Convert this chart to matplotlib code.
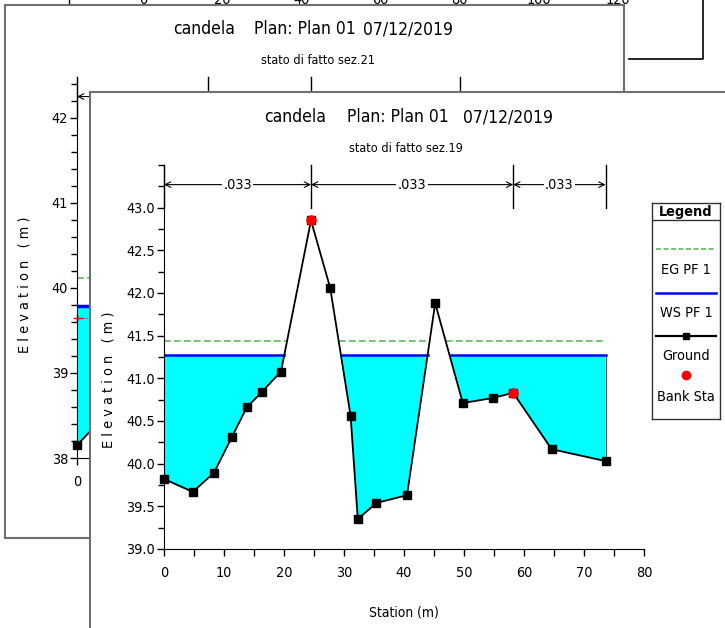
import matplotlib.pyplot as plt
import matplotlib.transforms as mtransforms
import numpy as np
from matplotlib import font_manager
from matplotlib.ticker import MultipleLocator, FormatStrFormatter

# narrow sans for the HEC-RAS look, whichever is installed
fonts = font_manager.fontManager.ttflist
names = {f.name for f in fonts}
if 'Liberation Sans Narrow' in names:
    family, stretch = 'Liberation Sans Narrow', 'normal'
elif any(f.name == 'DejaVu Sans' and f.stretch == 'condensed' for f in fonts):
    family, stretch = 'DejaVu Sans', 'condensed'
else:
    family, stretch = 'Liberation Sans', 'normal'
plt.rcParams['font.family'] = [family, 'DejaVu Sans']
plt.rcParams['font.stretch'] = stretch

# cross section sez.19 (front window)
station19 = [0.0, 4.8, 8.3, 11.3, 13.8, 16.3, 19.5, 24.5, 27.7, 31.1, 32.3,
             35.4, 40.5, 45.2, 49.8, 54.8, 58.2, 64.6, 73.6]
ground19 = [39.82, 39.67, 39.89, 40.31, 40.66, 40.84, 41.08, 42.85, 42.06, 40.56,
            39.35, 39.54, 39.63, 41.88, 40.71, 40.77, 40.83, 40.17, 40.03]
bank19 = [24.5, 58.2]
ws19 = 41.27
eg19 = 41.44
n19 = ['.033', '.033', '.033']

# cross section sez.21 (window behind)
station21 = [0.0, 6.0, 14.0]
ground21 = [38.15, 38.45, 38.60]
ws21 = 39.79
eg21 = 40.12
crit21 = 39.65
n_breaks21 = [0.0, 32.75, 58.5, 95.75]
n21 = ['.033', '.033', '.033']

# far window, only its station axis peeks out at the top
far_ticks = [0, 20, 40, 60, 80, 100, 120]

title_parts = ['candela', 'Plan: Plan 01', '07/12/2019']

W, H = 725, 628
fig = plt.figure(figsize=(W / 100, H / 100), dpi=100)
# pixel coordinates measured from the top-left corner
PX = mtransforms.Affine2D().scale(1 / 100, -1 / 100).translate(0, H / 100) + fig.dpi_scale_trans

# scale font sizes from the width of the date string
probe = fig.text(0, 0, '07/12/2019', fontsize=14.5)
SC = 90 / probe.get_window_extent(renderer=fig.canvas.get_renderer()).width
probe.remove()


def fs(size):
    return size * SC


FRAME = '#707070'
CYAN = '#00FFFF'
BLUE = '#0000FF'
GREEN = '#5DB85D'


def px_axes(x0, y0, x1, y1):
    return fig.add_axes([x0 / W, 1 - y1 / H, (x1 - x0) / W, (y1 - y0) / H])


def wet_spans(st, z, level):
    st = np.asarray(st, float)
    z = np.asarray(z, float)
    spans = []
    x0 = st[0] if z[0] < level else None
    for i in range(len(st) - 1):
        a, b = z[i] - level, z[i + 1] - level
        if a * b < 0:
            xc = st[i] + (st[i + 1] - st[i]) * a / (a - b)
            if a < 0:
                spans.append((x0, xc))
                x0 = None
            else:
                x0 = xc
    if x0 is not None:
        spans.append((x0, st[-1]))
    return spans


def window(x0, y0, x1, y1):
    ax = px_axes(x0, y0, x1, y1)
    ax.set_facecolor('white')
    ax.set_xticks([])
    ax.set_yticks([])
    for sp in ax.spines.values():
        sp.set_color(FRAME)
        sp.set_linewidth(1.5)
    return ax


def style_axes(ax):
    ax.spines[['top', 'right']].set_visible(False)
    ax.set_facecolor('none')
    ax.tick_params(which='both', direction='out', labelsize=fs(12), width=1)
    ax.tick_params(axis='y', which='major', length=5, pad=1.5)
    ax.tick_params(axis='y', which='minor', length=4)
    ax.tick_params(axis='x', which='both', length=5, pad=7)


def n_values(ax, breaks, labels, y0, y1, y_arrow):
    for s in breaks:
        ax.plot([s, s], [y0, y1], color='k', lw=1, clip_on=False)
    for a, b, lab in zip(breaks[:-1], breaks[1:], labels):
        ax.annotate('', xy=(a, y_arrow), xytext=(b, y_arrow),
                    arrowprops=dict(arrowstyle='<->', color='k', lw=0.8,
                                    shrinkA=0, shrinkB=0, mutation_scale=10))
        ax.text((a + b) / 2, y_arrow, lab, ha='center', va='center', fontsize=fs(12),
                bbox=dict(facecolor='white', edgecolor='none', pad=1))


def titles(ax, xs, y, sub, sub_x, sub_y):
    for x, t in zip(xs, title_parts):
        ax.text(x, y, t, transform=PX, ha='center', va='center', fontsize=fs(14.5))
    ax.text(sub_x, sub_y, sub, transform=PX, ha='center', va='center', fontsize=fs(10.5))


# far window: tick labels of its station axis
ax_far = px_axes(69, -200, 700, -19)
ax_far.set_xlim(-74 / 3.958, 120 + 82 / 3.958)
ax_far.set_xticks(far_ticks)
ax_far.set_yticks([])
ax_far.spines[['top', 'right', 'left']].set_visible(False)
ax_far.tick_params(axis='x', labelsize=fs(12), length=5)
ax_far.plot([69, 69], [0, 6], color='k', lw=1, transform=PX, clip_on=False)
ax_far.plot([629, 703, 703], [59, 59, 0], color='k', lw=1.2, transform=PX, clip_on=False)

# window of sez.21
win21 = window(5, 5, 624, 538)
titles(win21, [204, 305, 408], 29, 'stato di fatto sez.21', 318, 60)

ax21 = px_axes(77, 77, 600, 458)
style_axes(ax21)
ax21.set_xlim(0, (600 - 77) / 4)
ax21.set_ylim(38, 42.48)
ax21.yaxis.set_major_locator(MultipleLocator(1))
ax21.yaxis.set_minor_locator(MultipleLocator(0.2))
ax21.xaxis.set_major_locator(MultipleLocator(20))
ax21.fill_between(station21, ground21, ws21, where=np.array(ground21) < ws21,
                  interpolate=True, color=CYAN, lw=0)
ax21.plot([0, station21[-1]], [eg21, eg21], color=GREEN, lw=1.2, dashes=(4, 2))
ax21.plot([0, station21[-1]], [ws21, ws21], color=BLUE, lw=2.5)
ax21.plot([0, station21[-1]], [crit21, crit21], color='red', lw=0.8, ls='-.')
ax21.plot([0], [crit21], '+', color='red', ms=6, clip_on=False)
ax21.plot(station21, ground21, color='k', lw=1.3, marker='s', ms=5.5, clip_on=False)
n_values(ax21, n_breaks21, n21, 42.0, 42.48, 42.25)
ax21.text(25, 285, 'E l e v a t i o n   ( m )', transform=PX, rotation=90,
          ha='center', va='center', fontsize=fs(12))

# window of sez.19
win19 = window(90, 92, 745, 650)
titles(win19, [295.5, 398, 508], 117, 'stato di fatto sez.19', 406, 148)

ax19 = px_axes(164, 165, 644, 549)
style_axes(ax19)
ax19.set_xlim(0, 80)
ax19.set_ylim(39, 43.5)
ax19.set_yticks(np.arange(39, 43.01, 0.5))
ax19.yaxis.set_major_formatter(FormatStrFormatter('%.1f'))
ax19.yaxis.set_minor_locator(MultipleLocator(0.25))
ax19.xaxis.set_major_locator(MultipleLocator(10))
ax19.xaxis.set_minor_locator(MultipleLocator(5))

g19 = np.array(ground19)
ax19.fill_between(station19, g19, ws19, where=g19 < ws19, interpolate=True,
                  color=CYAN, lw=0)
ax19.plot([station19[-1]] * 2, [ground19[-1], ws19], color='#555555', lw=0.8)
for a, b in wet_spans(station19, ground19, eg19):
    ax19.plot([a, b], [eg19, eg19], color=GREEN, lw=1.2, dashes=(4, 2))
for a, b in wet_spans(station19, ground19, ws19):
    ax19.plot([a, b], [ws19, ws19], color=BLUE, lw=1.8)
ax19.plot(station19, ground19, color='k', lw=1.3, marker='s', ms=5.5, clip_on=False)
ax19.plot(bank19, np.interp(bank19, station19, ground19), 'o', color='red', ms=6.5,
          mec='red')
n_values(ax19, [station19[0]] + bank19 + [station19[-1]], n19, 43.0, 43.5, 43.27)
ax19.set_xlabel('Station (m)', fontsize=fs(11.5), va='center')
ax19.xaxis.set_label_coords(404, 613, transform=PX)
ax19.text(108, 380, 'E l e v a t i o n   ( m )', transform=PX, rotation=90,
          ha='center', va='center', fontsize=fs(12))

# legend box
leg = px_axes(652, 203, 720, 419)
leg.set_xlim(0, 68)
leg.set_ylim(216, 0)
leg.set_xticks([])
leg.set_yticks([])
for sp in leg.spines.values():
    sp.set_color('#333333')
    sp.set_linewidth(1)
leg.axhline(17, color='#333333', lw=1)
leg.text(34, 9, 'Legend', ha='center', va='center', fontsize=fs(12), fontweight='bold')
leg.plot([4, 64], [46, 46], color=GREEN, lw=1.2, dashes=(3, 1.5))
leg.text(34, 67, 'EG PF 1', ha='center', va='center', fontsize=fs(12))
leg.plot([4, 64], [90, 90], color=BLUE, lw=1.8)
leg.text(34, 110, 'WS PF 1', ha='center', va='center', fontsize=fs(12))
leg.plot([4, 64], [133, 133], color='k', lw=1.6)
leg.plot([34], [133], 's', color='k', ms=5)
leg.text(34, 153, 'Ground', ha='center', va='center', fontsize=fs(12))
leg.plot([34], [172], 'o', color='red', ms=6)
leg.text(34, 194, 'Bank Sta', ha='center', va='center', fontsize=fs(12))

fig.savefig('out.png', dpi=100)
